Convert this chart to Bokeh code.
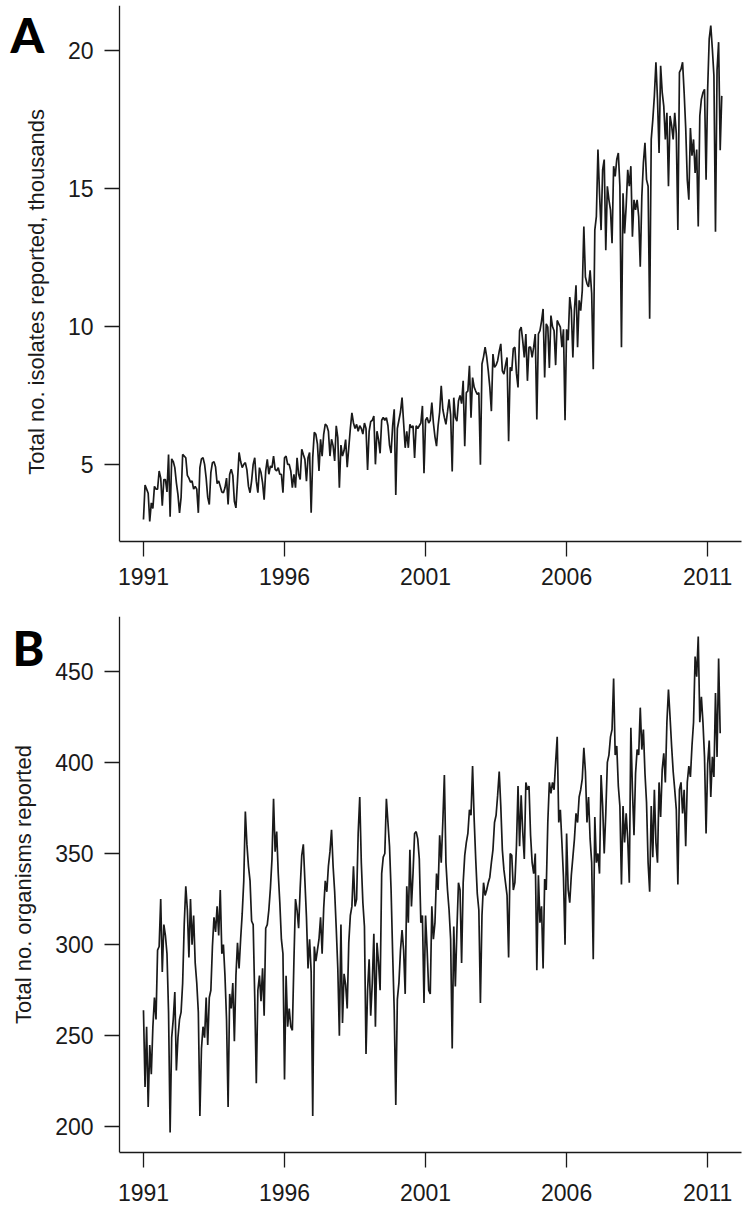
import numpy as np
from bokeh.plotting import figure
from bokeh.layouts import column
from bokeh.models import Range1d, FixedTicker, PrintfTickFormatter
from bokeh.core.properties import value
from bokeh.embed import file_html
from bokeh.resources import INLINE

# ---------------- data ----------------
start_year = 1991
samples_per_year = 18          # one reading roughly every 3 weeks

year_ticks = [1991, 1996, 2001, 2006, 2011]
isolates_ticks = [5, 10, 15, 20]
organisms_ticks = [200, 250, 300, 350, 400, 450]

# Panel A: total no. isolates reported, thousands
isolates_thousands = [
    # 1991
    3.0, 4.25, 4.1, 3.95, 2.93, 3.6, 3.4, 4.2, 4.1, 4.1, 4.76, 4.5, 3.5, 4.45, 4.45, 4.0, 5.36, 3.1,
    # 1992
    5.2, 5.1, 4.88, 4.33, 3.9, 3.24, 3.8, 5.36, 5.3, 5.24, 4.6, 4.5, 4.35, 4.4, 4.1, 4.2, 4.1, 3.24,
    # 1993
    4.88, 5.2, 5.24, 5.0, 4.5, 3.8, 3.54, 4.7, 5.06, 5.09, 4.9, 4.3, 4.4, 4.2, 4.0, 3.97, 4.15, 4.5,
    # 1994
    3.54, 4.64, 4.82, 4.6, 3.66, 3.42, 4.4, 5.43, 5.1, 4.88, 5.0, 5.06, 4.8, 4.2, 3.97, 4.4, 5.0, 5.24,
    # 1995
    4.39, 3.97, 4.88, 4.70, 4.33, 3.72, 4.76, 5.18, 4.64, 4.94, 4.88, 5.30, 4.82, 4.76, 4.88, 4.64, 4.64, 3.97,
    # 1996
    5.24, 5.30, 5.0, 5.0, 4.76, 4.15, 4.64, 4.15, 5.24, 4.64, 4.45, 5.55, 5.36, 5.18, 4.39, 5.24, 5.43, 3.24,
    # 1997
    5.24, 6.16, 6.09, 5.73, 4.76, 5.91, 5.30, 6.09, 6.46, 6.40, 6.2, 5.30, 5.91, 5.67, 5.12, 6.40, 5.97, 4.15,
    # 1998
    5.7, 5.3, 5.5, 5.9, 4.9, 5.6, 6.3, 6.87, 6.5, 6.3, 6.45, 6.2, 6.4, 6.3, 6.1, 6.5, 6.3, 4.8,
    # 1999
    6.2, 6.55, 6.6, 6.75, 5.0, 6.2, 5.9, 5.4, 6.6, 6.7, 6.6, 6.69, 6.4, 5.7, 5.41, 6.4, 7.0, 3.89,
    # 2000
    6.3, 6.6, 6.9, 7.42, 6.5, 5.6, 6.2, 5.6, 6.45, 6.33, 6.4, 5.23, 6.4, 6.3, 6.4, 6.5, 7.12, 4.68,
    # 2001
    6.6, 6.7, 6.5, 6.6, 7.24, 6.5, 6.0, 5.66, 6.4, 6.9, 7.85, 7.0, 6.7, 6.45, 6.9, 7.36, 6.8, 4.74,
    # 2002
    7.42, 6.7, 6.57, 7.3, 7.5, 7.2, 8.03, 5.66, 7.6, 7.66, 8.58, 6.69, 8.15, 7.8, 7.66, 7.54, 7.6, 4.99,
    # 2003
    8.64, 8.9, 9.25, 8.9, 8.4, 7.8, 6.93, 9.0, 8.52, 8.6, 8.76, 9.1, 9.37, 8.39, 8.27, 8.6, 8.88, 5.84,
    # 2004
    8.52, 8.39, 9.2, 9.25, 8.3, 7.79, 9.85, 9.98, 9.49, 8.88, 9.73, 8.03, 9.25, 9.25, 8.88, 9.25, 9.73, 6.63,
    # 2005
    9.73, 9.85, 10.2, 10.64, 8.15, 10.1, 9.98, 8.5, 10.4, 10.0, 9.85, 8.6, 10.22, 10.1, 9.98, 9.25, 9.9, 6.6,
    # 2006
    9.9, 9.5, 11.07, 10.6, 8.88, 10.6, 11.5, 9.25, 10.95, 10.58, 11.31, 13.63, 11.8, 11.56, 11.44, 12.04, 11.2, 8.45,
    # 2007
    13.5, 14.0, 16.42, 14.84, 13.5, 15.69, 16.06, 12.77, 15.09, 14.6, 14.23, 13.02, 15.82, 15.45, 16.06, 16.30, 15.09, 9.25,
    # 2008
    14.84, 13.38, 14.36, 15.69, 15.09, 15.82, 13.26, 14.60, 14.23, 14.60, 13.99, 12.17, 14.72, 15.94, 16.67, 15.33, 15.09, 10.28,
    # 2009
    16.79, 17.5, 18.37, 19.59, 18.25, 16.30, 19.46, 18.5, 18.0, 16.79, 17.76, 15.09, 17.64, 17.3, 16.79, 17.76, 17.0, 13.50,
    # 2010
    19.22, 19.34, 19.59, 18.49, 17.2, 15.33, 14.60, 17.2, 16.2, 16.79, 15.57, 16.42, 13.63, 17.64, 18.25, 18.49, 18.61, 15.33,
    # 2011
    18.61, 20.44, 20.92, 20.07, 19.1, 13.44, 19.3, 20.32, 16.4, 18.37,
]

# Panel B: total no. organisms reported
organisms = [
    # 1991
    264, 222, 255, 211, 245, 229, 255, 271, 259, 297, 299, 325, 285, 311, 305, 295, 263, 197,
    # 1992
    249, 259, 274, 231, 249, 259, 263, 279, 311, 332, 319, 293, 325, 300, 316, 290, 279, 263,
    # 1993
    206, 243, 255, 249, 271, 245, 271, 275, 299, 315, 307, 321, 305, 330, 295, 300, 283, 259,
    # 1994
    211, 273, 265, 279, 247, 283, 301, 287, 303, 317, 335, 373, 355, 343, 335, 313, 311, 271,
    # 1995
    224, 275, 283, 269, 287, 261, 309, 311, 319, 331, 347, 380, 351, 362, 339, 323, 303, 295,
    # 1996
    226, 283, 255, 265, 255, 253, 291, 325, 319, 309, 331, 349, 355, 335, 315, 287, 303, 285,
    # 1997
    206, 299, 291, 297, 303, 315, 295, 320, 335, 329, 343, 351, 363, 343, 329, 309, 287, 250,
    # 1998
    311, 257, 284, 278, 265, 301, 316, 321, 343, 321, 325, 361, 381, 345, 323, 310, 240, 275,
    # 1999
    292, 261, 279, 306, 255, 301, 290, 275, 339, 348, 350, 380, 367, 354, 330, 295, 264, 212,
    # 2000
    270, 279, 297, 308, 297, 273, 332, 312, 352, 321, 339, 361, 362, 358, 347, 312, 316, 268,
    # 2001
    316, 297, 275, 273, 321, 303, 312, 339, 330, 360, 345, 367, 393, 345, 330, 319, 303, 243,
    # 2002
    310, 277, 308, 334, 330, 290, 334, 349, 356, 361, 374, 371, 398, 369, 347, 328, 319, 268,
    # 2003
    316, 334, 327, 330, 334, 337, 345, 352, 367, 371, 382, 395, 376, 352, 341, 334, 327, 293,
    # 2004
    350, 349, 330, 334, 354, 387, 354, 382, 362, 347, 389, 385, 387, 360, 345, 339, 350, 286,
    # 2005
    338, 312, 321, 287, 336, 330, 367, 389, 383, 389, 385, 400, 414, 367, 374, 356, 337, 300,
    # 2006
    361, 330, 323, 338, 348, 358, 372, 367, 381, 385, 391, 408, 395, 367, 381, 358, 345, 292,
    # 2007
    370, 345, 350, 339, 393, 376, 350, 372, 400, 404, 414, 418, 446, 404, 409, 387, 376, 333,
    # 2008
    376, 356, 372, 358, 334, 419, 385, 360, 394, 407, 404, 430, 407, 418, 394, 378, 345, 329,
    # 2009
    376, 348, 385, 356, 345, 389, 370, 396, 405, 389, 422, 440, 425, 409, 395, 385, 374, 333,
    # 2010
    385, 389, 372, 385, 354, 389, 398, 392, 409, 422, 458, 447, 469, 422, 436, 422, 403, 361,
    # 2011
    399, 412, 381, 403, 392, 438, 403, 457, 416,
]

# ---------------- layout / styling ----------------
FONT = "Liberation Sans"
INK = "#1a1a1a"
FIG_W = 742
AXIS_PX = 119                 # page x of the left axis line
PLOT_X = (1990.15, 2012.2)    # extent of the L-shaped axes box
FRAME_H = 536
yr_per_px = (PLOT_X[1] - PLOT_X[0]) / (FIG_W - 1 - AXIS_PX)
X_FULL = (PLOT_X[0] - AXIS_PX * yr_per_px, PLOT_X[1])
NBSP = "\u00a0"


def style_axes(p, yticks, ylabel, x_standoff):
    for ax in (p.xaxis[0], p.yaxis[0]):
        ax.axis_line_color = INK
        ax.axis_line_width = 1.3
        ax.major_tick_line_color = INK
        ax.major_tick_line_width = 1.3
        ax.major_tick_out = 15
        ax.major_tick_in = 0
        ax.minor_tick_out = 0
        ax.minor_tick_in = 0
        ax.major_label_text_font = FONT
        ax.major_label_text_font_size = "23px"
        ax.major_label_text_color = INK
        ax.major_label_standoff = 11
    p.xaxis[0].major_label_standoff = x_standoff
    p.xaxis[0].ticker = FixedTicker(ticks=year_ticks)
    p.xaxis[0].formatter = PrintfTickFormatter(format="%d")
    p.xaxis[0].bounds = PLOT_X
    p.yaxis[0].ticker = FixedTicker(ticks=yticks)
    p.yaxis[0].formatter = PrintfTickFormatter(format="%d")
    p.yaxis[0].fixed_location = PLOT_X[0]
    p.yaxis[0].axis_label = ylabel
    p.yaxis[0].axis_label_text_font = FONT
    p.yaxis[0].axis_label_text_font_size = "22px"
    p.yaxis[0].axis_label_text_font_style = "normal"
    p.yaxis[0].axis_label_text_color = INK
    p.yaxis[0].axis_label_standoff = 16
    p.xgrid.visible = False
    p.ygrid.visible = False
    p.outline_line_color = None
    p.background_fill_color = "white"
    p.border_fill_color = "white"


def make_panel(values, y_range, yticks, ylabel, letter, height, border_top,
               border_bottom, letter_left_px, letter_baseline_px, x_standoff):
    x = start_year + np.arange(len(values)) / samples_per_year
    p = figure(width=FIG_W, height=height,
               x_range=Range1d(*X_FULL), y_range=Range1d(*y_range),
               output_backend="svg", toolbar_location=None,
               min_border_left=0, min_border_right=1,
               min_border_top=border_top, min_border_bottom=border_bottom)
    p.line(x, values, line_color=INK, line_width=1.7)
    style_axes(p, yticks, ylabel, x_standoff)

    # panel letter, placed in the empty left margin of the frame
    y_per_px = (y_range[1] - y_range[0]) / FRAME_H
    lx = X_FULL[0] + letter_left_px * yr_per_px
    ly = y_range[1] - letter_baseline_px * y_per_px
    p.text(x=[lx], y=[ly], text=[letter],
           text_font=value("Lato Black"), text_font_style="bold",
           text_font_size="48px", text_color="black",
           text_align="left", text_baseline="alphabetic")
    return p


pa = make_panel(isolates_thousands, (2.2, 21.65), isolates_ticks,
                "Total no. isolates reported, thousands" + NBSP * 6, "A",
                616, 5, 75, 10, 29, 11)
pb = make_panel(organisms, (186, 480), organisms_ticks,
                "Total no. organisms reported", "B",
                599, 0, 63, 12, 31, 16)

layout = column(pa, pb, spacing=0)
open("out.html", "w").write(file_html(layout, INLINE))
